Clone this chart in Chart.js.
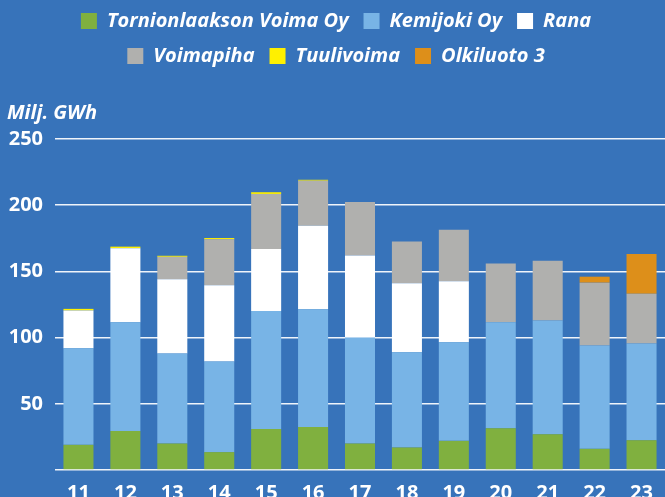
<!DOCTYPE html>
<html>
<head>
<meta charset="utf-8">
<script src="https://cdn.jsdelivr.net/npm/chart.js@4"></script>
<style>
  html, body { margin: 0; padding: 0; background: #3773BA; }
  #wrap { width: 665px; height: 497px; }
</style>
</head>
<body>
<div id="wrap"><canvas id="c" width="665" height="497"></canvas></div>
<script>
const years = ['11','12','13','14','15','16','17','18','19','20','21','22','23'];
const tornionlaakso = [19, 29.5, 20, 13.5, 31, 32.5, 20, 17, 22, 31.5, 27, 16, 22.5];
const kemijoki      = [73, 82, 68, 68.5, 89, 89, 80, 72, 74.5, 80, 86, 78, 73];
const rana          = [28.5, 56, 56, 57.5, 47, 63, 62, 52, 46, null, null, null, null];
const voimapiha     = [null, null, 17, 34.7, 41.5, 34, 40.5, 31.5, 39, 44.5, 45, 47.5, 37.7];
const tuulivoima    = [1.2, 1.2, 0.8, 1, 1.3, 0.7, null, null, null, null, null, null, null];
const olkiluoto3    = [null, null, null, null, null, null, null, null, null, null, null, 4.5, 30];
const yTicks = [50, 100, 150, 200, 250];

const FONT = "'Open Sans', 'DejaVu Sans', sans-serif";

const mk = (label, data, color) => ({
  label, data, backgroundColor: color, borderWidth: 0,
  categoryPercentage: 1.0, barPercentage: 0.64
});

new Chart(document.getElementById('c'), {
  type: 'bar',
  data: {
    labels: years,
    datasets: [
      mk('Tornionlaakson Voima Oy', tornionlaakso, '#80B03F'),
      mk('Kemijoki Oy', kemijoki, '#78B4E6'),
      mk('Rana', rana, '#FFFFFF'),
      mk('Voimapiha', voimapiha, '#B0B0AE'),
      mk('Tuulivoima', tuulivoima, '#FFF000'),
      mk('Olkiluoto 3', olkiluoto3, '#DD8F1A')
    ]
  },
  options: {
    responsive: false,
    animation: false,
    layout: { padding: { top: -4, left: 7, right: 0, bottom: 0 } },
    plugins: {
      legend: {
        position: 'top',
        weight: 1000,
        labels: {
          color: '#FFFFFF',
          boxWidth: 16,
          boxHeight: 16,
          padding: 15,
          font: { family: FONT, size: 20, weight: 'bold', style: 'italic' }
        }
      },
      title: {
        display: true,
        text: 'Milj. GWh',
        align: 'start',
        position: 'top',
        weight: 500,
        color: '#FFFFFF',
        padding: { top: 25, bottom: 14 },
        font: { family: FONT, size: 20, weight: 'bold', style: 'italic', lineHeight: 1.2 }
      },
      tooltip: { enabled: false }
    },
    scales: {
      x: {
        stacked: true,
        afterFit: (s) => { s.height = 27; },
        grid: { display: false, drawTicks: false },
        border: { display: false },
        ticks: {
          color: '#FFFFFF',
          padding: 11,
          font: { family: FONT, size: 20, weight: 'bold' }
        }
      },
      y: {
        stacked: true,
        min: 0,
        max: 250,
        afterFit: (s) => { s.width = 48; },
        afterBuildTicks: (s) => { s.ticks = [0].concat(yTicks).map(v => ({ value: v })); },
        grid: { color: 'rgba(255,255,255,0.92)', lineWidth: 1.6, drawTicks: false },
        border: { display: false },
        ticks: {
          color: '#FFFFFF',
          padding: 12,
          font: { family: FONT, size: 20, weight: 'bold' },
          callback: (v) => (v === 0 ? '' : String(v))
        }
      }
    }
  }
});
</script>
</body>
</html>
